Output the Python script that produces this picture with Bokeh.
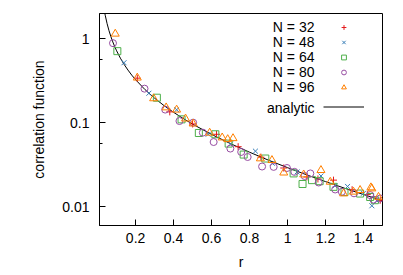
from bokeh.plotting import figure
from bokeh.models import (FixedTicker, CustomJSTickFormatter, Legend, LegendItem, Label)
from bokeh.embed import file_html
from bokeh.resources import INLINE

# ---- data ----
r32 = [0.209, 0.38, 0.50, 0.626, 0.74, 0.86, 0.98, 1.102, 1.16, 1.242, 1.34, 1.42, 1.488]
y32 = [0.340, 0.135, 0.097, 0.073, 0.052, 0.039, 0.029, 0.0227, 0.0215, 0.0208, 0.0160, 0.0140, 0.0120]

r48 = [0.139, 0.27, 0.416, 0.582, 0.70, 0.831, 0.92, 1.05, 1.176, 1.25, 1.316, 1.40, 1.444, 1.47]
y48 = [0.519, 0.225, 0.143, 0.0731, 0.056, 0.046, 0.033, 0.026, 0.0233, 0.0178, 0.0175, 0.0145, 0.0103, 0.0118]

r64 = [0.104, 0.312, 0.442, 0.533, 0.62, 0.69, 0.769, 0.883, 1.032, 1.079, 1.129, 1.169, 1.242, 1.30, 1.382, 1.435, 1.46]
y64 = [0.713, 0.199, 0.110, 0.0757, 0.0731, 0.0566, 0.0419, 0.0376, 0.025, 0.0187, 0.0208, 0.0202, 0.0173, 0.0150, 0.0144, 0.0131, 0.0120]

r80 = [0.081, 0.247, 0.356, 0.431, 0.503, 0.554, 0.611, 0.699, 0.756, 0.79, 0.866, 0.927, 0.997, 1.036,
       1.09, 1.12, 1.164, 1.251, 1.286, 1.35, 1.435, 1.452, 1.488]
y80 = [0.887, 0.255, 0.1437, 0.105, 0.1005, 0.0764, 0.0591, 0.0494, 0.045, 0.0392, 0.0302, 0.0299, 0.029, 0.0261,
       0.0233, 0.025, 0.0195, 0.0161, 0.0151, 0.0145, 0.0138, 0.0122, 0.0126]

r96 = [0.093, 0.209, 0.295, 0.361, 0.416, 0.463, 0.503, 0.59, 0.656, 0.685, 0.713, 0.857, 0.918, 0.98,
       1.085, 1.176, 1.225, 1.295, 1.347, 1.382, 1.439, 1.444, 1.479]
y96 = [1.146, 0.344, 0.195, 0.152, 0.143, 0.112, 0.0977, 0.076, 0.0667, 0.0637, 0.0654, 0.0376, 0.0359, 0.0255,
       0.0242, 0.0273, 0.0198, 0.0144, 0.0151, 0.0158, 0.017, 0.0165, 0.0131]

r_an = [0.038, 0.04, 0.05, 0.06, 0.07, 0.08, 0.09, 0.10, 0.12, 0.14, 0.16, 0.18, 0.20, 0.25, 0.30, 0.35,
        0.40, 0.45, 0.50, 0.60, 0.70, 0.80, 0.90, 1.00, 1.10, 1.20, 1.30, 1.40, 1.50]
y_an = [2.016, 1.911, 1.514, 1.249, 1.060, 0.918, 0.808, 0.720, 0.588, 0.494, 0.424, 0.369, 0.326, 0.248,
        0.1965, 0.1602, 0.1334, 0.1128, 0.0965, 0.0728, 0.0565, 0.0447, 0.0359, 0.02928, 0.02408, 0.01998,
        0.01668, 0.01402, 0.01184]

series_labels = ["N = 32", "N = 48", "N = 64", "N = 80", "N = 96"]
x_ticks = [0.2, 0.4, 0.6, 0.8, 1.0, 1.2, 1.4]
y_ticks = [0.01, 0.1, 1]
y_minor = [0.05623, 0.5623]

FONT = "Liberation Sans"

p = figure(width=403, height=275, x_range=(0.01, 1.5), y_range=(0.006, 2), y_axis_type="log",
           output_backend="svg", toolbar_location=None,
           min_border_left=99, min_border_right=21, min_border_top=13, min_border_bottom=50)
p.grid.visible = False
p.outline_line_color = "black"
p.outline_line_width = 1
p.background_fill_color = "white"
p.border_fill_color = "white"

fmt = CustomJSTickFormatter(code="return String(tick)")
p.xaxis.ticker = FixedTicker(ticks=x_ticks, minor_ticks=[])
p.yaxis.ticker = FixedTicker(ticks=y_ticks, minor_ticks=y_minor)
for ax in (p.xaxis[0], p.yaxis[0]):
    ax.formatter = fmt
    ax.major_tick_in = 6
    ax.major_tick_out = 0
    ax.minor_tick_in = 3
    ax.minor_tick_out = 0
    ax.axis_line_color = "black"
    ax.major_tick_line_color = "black"
    ax.minor_tick_line_color = "black"
    ax.major_label_text_font = FONT
    ax.major_label_text_font_size = "14px"
    ax.major_label_text_color = "black"
    ax.axis_label_text_font = FONT
    ax.axis_label_text_font_size = "14px"
    ax.axis_label_text_font_style = "normal"
    ax.axis_label_text_color = "black"
p.xaxis.major_label_standoff = 7
p.yaxis.major_label_standoff = 10
p.xaxis.axis_label = "r"
p.yaxis.axis_label = "correlation function"
p.xaxis.axis_label_standoff = 8
p.yaxis.axis_label_standoff = 12

colors = ["#e41a1c", "#377eb8", "#4daf4a", "#984ea3", "#ff7f00"]
markers = ["cross", "x", "square", "circle", "triangle"]
sizes = [7, 7, 7, 7, 8]
data = [(r32, y32), (r48, y48), (r64, y64), (r80, y80), (r96, y96)]

line_r = p.line(r_an, y_an, line_color="black", line_width=1)

rends = []
for (xs, ys), c, m, s in zip(data, colors, markers, sizes):
    rends.append(p.scatter(xs, ys, marker=m, size=s, line_color=c, fill_color=None, line_width=1))

def mk_legend(items, loc, gw, gh, sp):
    lg = Legend(items=items, location=loc, padding=0, margin=0, spacing=sp,
                glyph_width=gw, glyph_height=gh, label_standoff=0, label_width=0, label_height=gh,
                label_text_font_size="1px", border_line_color=None, background_fill_alpha=0)
    p.add_layout(lg)

mk_legend([LegendItem(label=" ", renderers=[r]) for r in rends], (222.8, 132.3), 43, 12, 3)
mk_legend([LegendItem(label=" ", renderers=[line_r])], (224.3, 110.8), 41, 15, 0)

ys_txt = [199, 184, 169, 154, 139]
for t, yy in zip(series_labels, ys_txt):
    p.add_layout(Label(x=215, y=yy, x_units="screen", y_units="screen", text=t, text_align="right",
                       text_baseline="middle", text_font=FONT, text_font_size="14px", text_color="black"))
p.add_layout(Label(x=215, y=118, x_units="screen", y_units="screen", text="analytic", text_align="right",
                   text_baseline="middle", text_font=FONT, text_font_size="14px", text_color="black"))

open("out.html", "w").write(file_html(p, INLINE))
